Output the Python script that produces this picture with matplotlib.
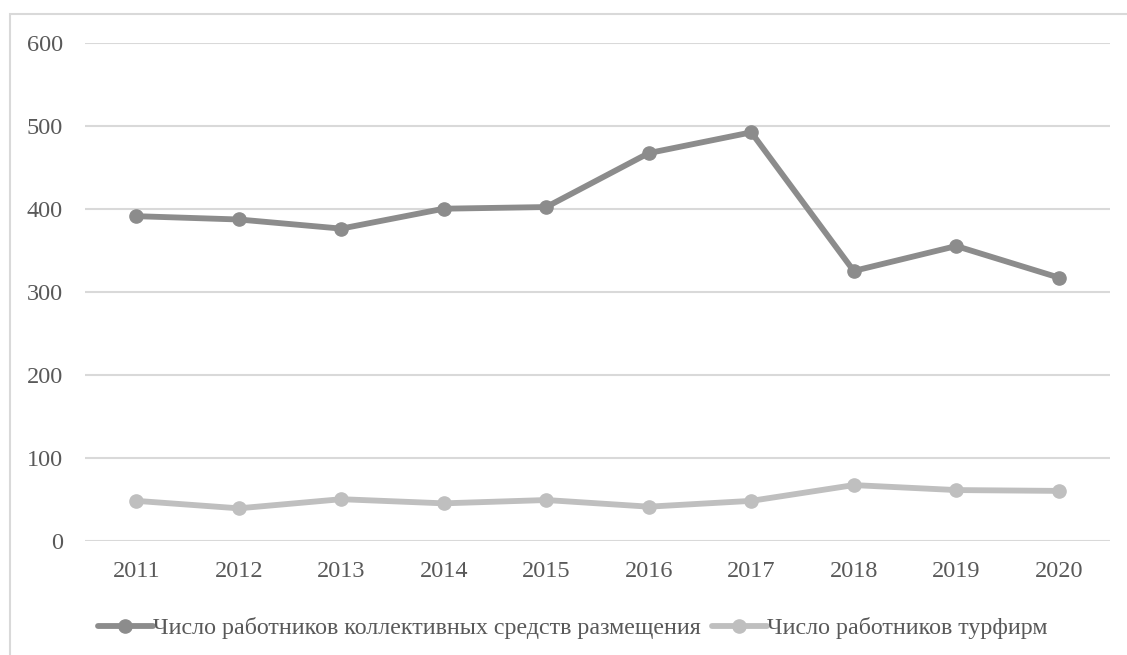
import matplotlib
matplotlib.use("Agg")
import matplotlib.pyplot as plt
from matplotlib.patches import Rectangle

years = ["2011", "2012", "2013", "2014", "2015", "2016", "2017", "2018", "2019", "2020"]
accommodation = [391, 387, 376, 400, 402, 467, 492, 325, 355, 317]
tour_firms = [48, 39, 50, 45, 49, 41, 48, 67, 61, 60]
label_acc = "Число работников коллективных средств размещения"
label_tour = "Число работников турфирм"
yticks = [0, 100, 200, 300, 400, 500, 600]

plt.rcParams['font.family'] = ['Liberation Serif', 'DejaVu Serif']
text_color = "#595959"

fig = plt.figure(figsize=(11.27, 6.55), dpi=100)
# outer chart border (top/left visible)
fig.patches.append(Rectangle((10 / 1127, -0.1), 1.2, 1 - 14 / 655 + 0.1,
                             transform=fig.transFigure, fill=False,
                             edgecolor="#d9d9d9", linewidth=1.5))

ax = fig.add_axes([85 / 1127, 1 - 540.7 / 655, (1110 - 85) / 1127, (540.7 - 42.7) / 655])
x = list(range(len(years)))
ax.plot(x, accommodation, color="#8c8c8c", linewidth=4.2, marker="o", markersize=9.5,
        label=label_acc, solid_capstyle="round", zorder=3)
ax.plot(x, tour_firms, color="#bfbfbf", linewidth=4.2, marker="o", markersize=9.5,
        label=label_tour, solid_capstyle="round", zorder=3)

ax.set_xlim(-0.5, len(years) - 0.5)
ax.set_ylim(0, 600)
ax.set_yticks(yticks)
ax.set_yticklabels([str(v) for v in yticks])
ax.set_xticks(x)
ax.set_xticklabels(years)
ax.grid(axis="y", color="#d9d9d9", linewidth=1.5)
ax.set_axisbelow(True)
for s in ax.spines.values():
    s.set_visible(False)
ax.tick_params(axis="both", length=0, labelsize=17.5, labelcolor=text_color)
ax.tick_params(axis="x", pad=14.5)
ax.tick_params(axis="y", pad=16)

leg = fig.legend(loc="center", bbox_to_anchor=(0.508, 1 - 628 / 655), ncol=2, frameon=False,
                 fontsize=17.3, handlelength=2.3, handletextpad=0.0, columnspacing=0.45,
                 labelcolor=text_color)

fig.savefig("out.png", dpi=100)
